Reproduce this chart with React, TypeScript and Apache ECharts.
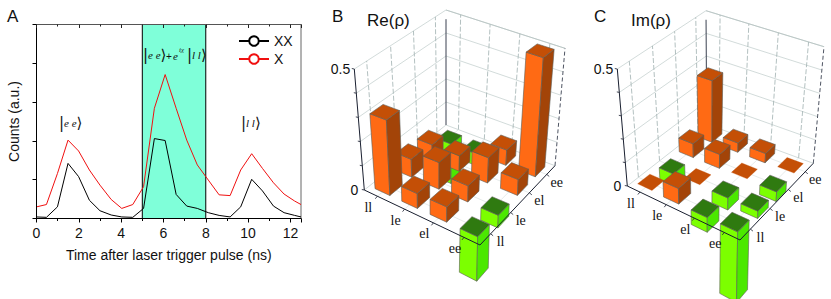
import React, { useEffect, useRef } from "react";
import * as echarts from "echarts";

const timeNs = [0, 0.47, 0.99, 1.49, 1.99, 2.5, 3.0, 3.53, 4.03, 4.55, 5.06, 5.57, 6.08, 6.6, 7.1, 7.6, 8.12, 8.63, 9.15, 9.65, 10.17, 10.68, 11.2, 11.7, 12.2, 12.5];
const xxCounts = [0.04, 0.03, 0.3, 1.42, 1.08, 0.47, 0.2, 0.09, 0.04, 0.03, 0.26, 2.06, 2.01, 0.62, 0.32, 0.26, 0.15, 0.08, 0.04, 0.3, 1.01, 0.71, 0.32, 0.15, 0.08, 0.04];
const xCounts = [0.3, 0.36, 1.16, 2.02, 1.74, 1.25, 0.86, 0.49, 0.26, 0.36, 0.82, 2.84, 3.71, 2.84, 2.02, 1.38, 0.99, 0.61, 0.59, 1.25, 1.67, 1.29, 0.92, 0.63, 0.45, 0.36];
const bandRange = [5, 8];

const states = ["ll", "le", "el", "ee"];
const zTicks = [0, 0.1, 0.2, 0.3, 0.4, 0.5];
// rows: along the left-front edge; columns: along the front-right edge
const rhoRe = [
  [0.31, 0.075, 0.065, -0.17],
  [0.06, 0.11, 0.065, -0.05],
  [0.06, 0.065, 0.105, 0.065],
  [-0.17, -0.05, 0.065, 0.5],
];
const rhoIm = [
  [0.004, -0.05, 0.06, 0.27],
  [0.065, 0.004, 0.06, 0.04],
  [-0.06, -0.05, 0.004, 0.04],
  [-0.28, -0.03, -0.04, 0.004],
];

type Pt = [number, number];
const homography = (p0: Pt, p1: Pt, p2: Pt, p3: Pt) => {
  const dx1 = p1[0] - p2[0], dx2 = p3[0] - p2[0], sx = p0[0] - p1[0] + p2[0] - p3[0];
  const dy1 = p1[1] - p2[1], dy2 = p3[1] - p2[1], sy = p0[1] - p1[1] + p2[1] - p3[1];
  const den = dx1 * dy2 - dx2 * dy1;
  const g = (sx * dy2 - dx2 * sy) / den, h = (dx1 * sy - sx * dy1) / den;
  const a = p1[0] - p0[0] + g * p1[0], b = p3[0] - p0[0] + h * p3[0];
  const d = p1[1] - p0[1] + g * p1[1], e = p3[1] - p0[1] + h * p3[1];
  return (u: number, v: number): Pt => {
    const w = g * u + h * v + 1;
    return [(a * u + b * v + p0[0]) / w, (d * u + e * v + p0[1]) / w];
  };
};
const makeProjection = (floor: Pt[], top: Pt[]) => {
  const hf = homography(floor[0], floor[1], floor[2], floor[3]);
  const ht = homography(top[0], top[1], top[2], top[3]);
  return (u: number, v: number, z: number): Pt => {
    const a = hf(u, v), b = ht(u, v), t = z / 0.5;
    return [a[0] + (b[0] - a[0]) * t, a[1] + (b[1] - a[1]) * t];
  };
};

const CUBE = 0.56;
const palette = {
  pos: { left: "#ff6a14", right: "#a34408", top: "#c44f06" },
  neg: { left: "#7cff00", right: "#4be800", top: "#2f7a10" },
};

const barSeries = (matrix: number[][], proj: any) => {
  const data: number[][] = [];
  matrix.forEach((row, i) => {
    for (let j = row.length - 1; j >= 0; j--) data.push([i, j, row[j]]);
  });
  return {
    type: "custom",
    xAxisIndex: 2,
    yAxisIndex: 2,
    silent: true,
    z: 3,
    data,
    renderItem: (_p: any, api: any) => {
      const i = api.value(0), j = api.value(1), val = api.value(2);
      const u0 = (i + 0.5 - CUBE / 2) / 4, u1 = (i + 0.5 + CUBE / 2) / 4;
      const v0 = (j + 0.5 - CUBE / 2) / 4, v1 = (j + 0.5 + CUBE / 2) / 4;
      const hi = Math.max(val, 0), lo = Math.min(val, 0);
      const c = val > 0 ? palette.pos : palette.neg;
      const P = (u: number, v: number, z: number) => api.coord(proj(u, v, z));
      const face = (pts: number[][], fill: string, edge = true) => ({
        type: "polygon",
        shape: { points: pts },
        style: { fill, stroke: edge ? "#5d5d55" : fill, lineWidth: edge ? 0.6 : 0.3 },
      });
      const flat = Math.abs(val) < 0.01;
      const children: any[] = [];
      if (!flat) {
        children.push(face([P(u0, v0, hi), P(u1, v0, hi), P(u1, v0, lo), P(u0, v0, lo)], c.left));
        children.push(face([P(u1, v0, hi), P(u1, v1, hi), P(u1, v1, lo), P(u1, v0, lo)], c.right));
      }
      children.push(face([P(u0, v0, hi), P(u1, v0, hi), P(u1, v1, hi), P(u0, v1, hi)], c.top, !flat));
      return { type: "group", children };
    },
  };
};

const seg = (a: number[], b: number[], stroke: string, lineWidth: number, lineDash?: number[]) => ({
  type: "line",
  shape: { x1: a[0], y1: a[1], x2: b[0], y2: b[1] },
  style: { stroke, lineWidth, lineDash: lineDash ?? null, fill: "none" },
});

const wallSeries = (proj: any) => ({
  type: "custom",
  xAxisIndex: 2,
  yAxisIndex: 2,
  silent: true,
  z: 2,
  data: [[0, 0]],
  renderItem: (_p: any, api: any) => {
    const P = (u: number, v: number, z: number) => api.coord(proj(u, v, z));
    const children: any[] = [];
    const light = "#c6d2d0", dash = "#9fb0b0";
    zTicks.forEach((z) => {
      children.push(seg(P(0, 0, z), P(0, 1, z), light, 0.8));
      children.push(seg(P(0, 1, z), P(1, 1, z), light, 0.8));
    });
    states.forEach((_s, k) => {
      const t = (k + 0.5) / 4;
      children.push(seg(P(0, t, 0), P(0, t, 0.5), dash, 0.8, [5, 2]));
      children.push(seg(P(t, 1, 0), P(t, 1, 0.5), dash, 0.8, [5, 2]));
      children.push(seg(P(0, t, 0), P(1, t, 0), "#dbe2e1", 0.7));
      children.push(seg(P(t, 0, 0), P(t, 1, 0), "#dbe2e1", 0.7));
    });
    children.push(seg(P(0, 1, 0), P(0, 1, 0.46), "#3a4150", 1));
    children.push(seg(P(1, 1, 0), P(1, 1, 0.5), "#3a4150", 0.9, [4, 2.5]));
    children.push(seg(P(0, 1, 0.5), P(1, 1, 0.5), "#b5c2c0", 0.8));
    return { type: "group", children };
  },
});

const frameSeries = (proj: any, zLabelX: number) => ({
  type: "custom",
  xAxisIndex: 2,
  yAxisIndex: 2,
  silent: true,
  z: 4,
  data: [[0, 0]],
  renderItem: (_p: any, api: any) => {
    const P = (u: number, v: number, z: number) => api.coord(proj(u, v, z));
    const ink = "#1a2030";
    const children: any[] = [
      seg(P(0, 0, 0), P(1, 0, 0), ink, 1),
      seg(P(1, 0, 0), P(1, 1, 0), ink, 1),
      seg(P(0, 0, 0), P(0, 0, 0.5), ink, 1),
    ];
    zTicks.forEach((z) => {
      const a = P(0, 0, z);
      children.push(seg(a, [a[0] - 2.5, a[1] - 0.5], ink, 0.8));
    });
    const label = (text: string, x: number, y: number, serif = true, align = "center") => ({
      type: "text",
      x,
      y,
      style: {
        text,
        fontFamily: serif ? "Liberation Serif" : "Liberation Sans",
        fontSize: 14,
        fill: "#111",
        align,
        verticalAlign: "middle",
      },
    });
    states.forEach((s, k) => {
      const t = (k + 0.5) / 4;
      const a = P(t, 0, 0), b = P(1, t, 0);
      children.push(seg(a, [a[0] - 2, a[1] + 2.5], ink, 0.8));
      children.push(seg(b, [b[0] + 2.5, b[1] + 2], ink, 0.8));
      children.push(label(s, a[0] - 9, a[1] + 11));
      children.push(label(s, b[0] + 10, b[1] + 8));
    });
    const z0 = P(0, 0, 0), z5 = P(0, 0, 0.5);
    children.push(label("0", z0[0] - 6, z0[1], false, "right"));
    children.push(label("0.5", z5[0] - 4, z5[1], false, "right"));
    return { type: "group", children };
  },
});

const ket = (text: string, x: number, y: number) => ({
  type: "text",
  x,
  y,
  z: 20,
  style: {
    rich: {
      k: { fontFamily: "DejaVu Sans", fontSize: 15, fill: "#111" },
      t: { fontFamily: "Liberation Serif", fontStyle: "italic", fontSize: 11, fill: "#111" },
    },
    text,
    align: "left",
    verticalAlign: "middle",
  },
});
const plain = (text: string, x: number, y: number, fontSize: number) => ({
  type: "text",
  x,
  y,
  z: 20,
  style: { text, fontFamily: "Liberation Sans", fontSize, fill: "#111", align: "left", verticalAlign: "middle" },
});

const projRe = makeProjection(
  [[364.3, 190], [480, 245], [555, 165.7], [446, 125]],
  [[354.3, 69], [482.5, 112], [565, 48.3], [446, 10]]
);
const projIm = makeProjection(
  [[627.3, 186], [740, 240], [813.3, 163.3], [706.7, 124]],
  [[617.3, 69], [742, 112], [824, 46.7], [706, 10.7]]
);

export default function App() {
  const ref = useRef<HTMLDivElement>(null);
  useEffect(() => {
    document.body.style.margin = "0";
    const chart = echarts.init(ref.current!, null, { renderer: "svg" });
    const fam = "Liberation Sans";
    chart.setOption({
      animation: false,
      backgroundColor: "#fff",
      grid: [
        { left: 36.5, top: 24.5, width: 264.5, height: 194, show: true, borderColor: "#666", borderWidth: 1, backgroundColor: "transparent" },
        { left: 0, top: 0, right: 0, bottom: 0 },
      ],
      xAxis: [
        {
          type: "value", gridIndex: 0, min: 0, max: 12.5, interval: 2,
          name: "Time after laser trigger pulse (ns)", nameLocation: "middle", nameGap: 29,
          nameTextStyle: { fontFamily: fam, fontSize: 14, color: "#111" },
          axisLine: { show: true, lineStyle: { color: "#000", width: 1 } },
          axisTick: { show: true, length: 4, lineStyle: { color: "#000" } },
          minorTick: { show: true, splitNumber: 2, length: 2.5, lineStyle: { color: "#000" } },
          axisLabel: { fontFamily: fam, fontSize: 14, color: "#111", margin: 7, showMaxLabel: false },
          splitLine: { show: false }, z: 6,
        },
        {
          type: "value", gridIndex: 0, position: "top", min: 0, max: 12.5, interval: 2,
          axisLine: { show: true, lineStyle: { color: "#555" } },
          axisTick: { show: true, inside: true, length: 3.5, lineStyle: { color: "#222" } },
          minorTick: { show: true, splitNumber: 2, length: 2, lineStyle: { color: "#222" } },
          axisLabel: { show: false }, splitLine: { show: false }, z: 6,
        },
        { type: "value", gridIndex: 1, min: 0, max: 831, show: false },
      ],
      yAxis: [
        {
          type: "value", gridIndex: 0, min: 0, max: 5, interval: 1,
          name: "Counts (a.u.)", nameLocation: "middle", nameGap: 16,
          nameTextStyle: { fontFamily: fam, fontSize: 14, color: "#111" },
          axisLine: { show: true, lineStyle: { color: "#000" } },
          axisTick: { show: true, length: 4, lineStyle: { color: "#000" } },
          axisLabel: { show: false }, splitLine: { show: false }, z: 6,
        },
        { type: "value", gridIndex: 1, inverse: true, min: 0, max: 299, show: false },
        { type: "value", gridIndex: 1, inverse: true, min: 0, max: 299, show: false },
      ],
      legend: {
        data: ["XX", "X"], orient: "vertical", left: 238, top: 34, itemWidth: 30, itemHeight: 12, itemGap: 4,
        padding: 0, selectedMode: false,
        textStyle: { fontFamily: fam, fontSize: 14, color: "#111", padding: [0, 0, 0, 0] },
      },
      graphic: [
        plain("A", 7, 16, 17),
        plain("B", 332, 16, 17),
        plain("C", 594, 16, 17),
        plain("Re(\u03c1)", 367, 20, 17),
        plain("Im(\u03c1)", 631, 20, 17),
        ket("{k||}{t|e e}{k|\u27e9}", 59, 123),
        ket("{k||}{t|l l}{k|\u27e9}", 241, 123),
        ket("{k||}{t|e e}{k|\u27e9}", 143, 55),
        plain("+", 166, 56, 10),
        { type: "text", x: 173, y: 56, z: 20, style: { text: "e", fontFamily: "Liberation Serif", fontStyle: "italic", fontSize: 11, fill: "#111", verticalAlign: "middle" } },
        { type: "text", x: 179, y: 50, z: 20, style: { text: "i\u03c7", fontFamily: "Liberation Serif", fontStyle: "italic", fontSize: 7, fill: "#111", verticalAlign: "middle" } },
        ket("{k||}{t|l l}{k|\u27e9}", 187, 55),
      ],
      series: [
        {
          type: "line", xAxisIndex: 0, yAxisIndex: 0, data: [], silent: true, z: 1,
          markArea: {
            silent: true,
            itemStyle: { color: "#7fffd9", borderColor: "#000", borderWidth: 1 },
            data: [[{ xAxis: bandRange[0] }, { xAxis: bandRange[1] }]],
          },
        },
        {
          name: "XX", type: "line", xAxisIndex: 0, yAxisIndex: 0, showSymbol: false, z: 3,
          lineStyle: { color: "#000", width: 1 }, itemStyle: { color: "#000" },
          data: timeNs.map((t, k) => [t, xxCounts[k]]),
        },
        {
          name: "X", type: "line", xAxisIndex: 0, yAxisIndex: 0, showSymbol: false, z: 3,
          lineStyle: { color: "#f01010", width: 1 }, itemStyle: { color: "#f01010" },
          data: timeNs.map((t, k) => [t, xCounts[k]]),
        },
        { ...wallSeries(projRe) },
        barSeries(rhoRe, projRe),
        frameSeries(projRe, 0),
        { ...wallSeries(projIm) },
        barSeries(rhoIm, projIm),
        frameSeries(projIm, 0),
      ],
    });
    return () => chart.dispose();
  }, []);
  return <div ref={ref} style={{ width: 831, height: 299 }} />;
}
